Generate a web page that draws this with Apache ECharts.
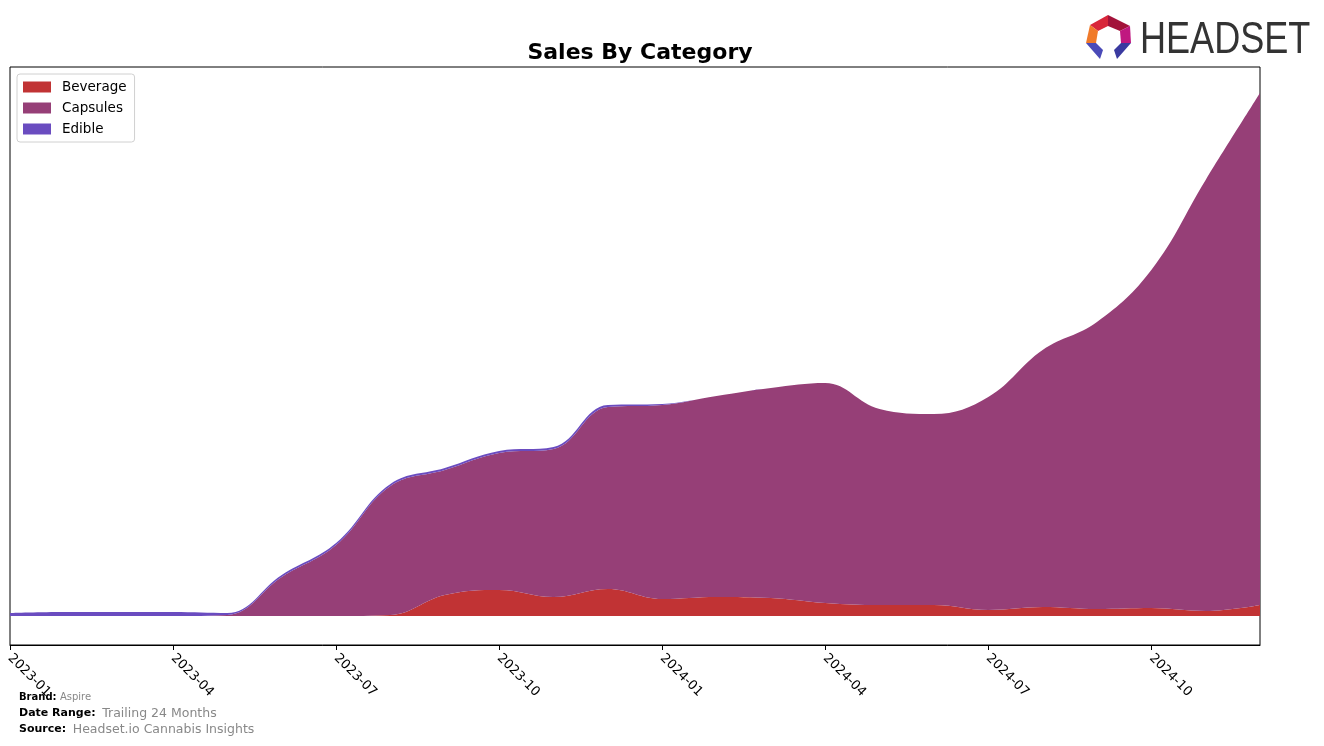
<!DOCTYPE html>
<html>
<head>
<meta charset="utf-8">
<script src="https://cdn.jsdelivr.net/npm/echarts@6/dist/echarts.min.js"></script>
<style>html,body{margin:0;padding:0;background:#fff}#c{width:1324px;height:746px}</style>
</head>
<body>
<div id="c"></div>
<script>
const months = ['2023-01','2023-02','2023-03','2023-04','2023-05','2023-06','2023-07','2023-08','2023-09','2023-10','2023-11','2023-12',
  '2024-01','2024-02','2024-03','2024-04','2024-05','2024-06','2024-07','2024-08','2024-09','2024-10','2024-11','2024-12'];
const beverage = [0,0,0,0,0,0,0,1,21,26,19,27,17,19,18,13,11,11,6,9,7,8,5,11];
const capsules = [0,0,0,0,1,39,71,129,125,137,148,182,194,201,210,220,196,191,213,257,287,338,431,512];
const edible = [3,4,4,4,2,2,2,2,2,2,2,2,1,0,0,0,0,0,0,0,0,0,0,0];
const tickLabels = ['2023-01','2023-04','2023-07','2023-10','2024-01','2024-04','2024-07','2024-10'];

const chart = echarts.init(document.getElementById('c'), null, {renderer:'canvas'});
const font = 'DejaVu Sans';
const mk = (name, data, color) => ({
  name, type:'line', stack:'total', smooth:0.4, symbol:'none', data:data.map(v=>v*1000),
  lineStyle:{width:0}, areaStyle:{color, opacity:1}, itemStyle:{color}
});
const showTick = (i, v) => tickLabels.indexOf(v) >= 0;
chart.setOption({
  animation:false,
  title:{text:'Sales By Category', left:635, top:37, textAlign:'center',
    textStyle:{fontFamily:font, fontSize:22, fontWeight:'bold', color:'#000'}},
  legend:{orient:'vertical', left:17, top:74, itemWidth:28, itemHeight:11, itemGap:7,
    padding:[6,8,6,6], borderColor:'#d0d0d0', borderWidth:1, borderRadius:3, icon:'rect',
    textStyle:{fontFamily:font, fontSize:13.5, color:'#000', lineHeight:14, padding:[0,0,0,6]},
    data:['Beverage','Capsules','Edible']},
  grid:{left:10, right:64, top:67, bottom:101, show:true, borderColor:'#000', borderWidth:1, containLabel:false},
  xAxis:{type:'category', data:months, boundaryGap:false,
    axisLine:{show:true, onZero:false, lineStyle:{color:'#000'}},
    axisTick:{show:true, interval:showTick, length:5, lineStyle:{color:'#000'}},
    axisLabel:{interval:showTick, rotate:-45, fontFamily:font, fontSize:13, color:'#000', margin:11},
    splitLine:{show:false}},
  yAxis:{type:'value', min:-29000, max:549000, show:false, splitLine:{show:false}},
  series:[
    mk('Beverage', beverage, '#c13334'),
    mk('Capsules', capsules, '#963f77'),
    mk('Edible', edible, '#6a4cc0')
  ],
  graphic:[
    {type:'text', left:19, top:691, style:{rich:{a:{fontFamily:font,fontSize:10,fontWeight:'bold',fill:'#000'},b:{fontFamily:font,fontSize:10,fill:'#888'}}, text:'{a|Brand:} {b|Aspire}'}},
    {type:'text', left:19, top:707, style:{rich:{a:{fontFamily:font,fontSize:11,fontWeight:'bold',fill:'#000'},b:{fontFamily:font,fontSize:12.5,fill:'#888'}}, text:'{a|Date Range:}  {b|Trailing 24 Months}'}},
    {type:'text', left:19, top:723, style:{rich:{a:{fontFamily:font,fontSize:11,fontWeight:'bold',fill:'#000'},b:{fontFamily:font,fontSize:12.5,fill:'#888'}}, text:'{a|Source:}  {b|Headset.io Cannabis Insights}'}},
    {type:'polygon', shape:{points:[[1108,15],[1090,25],[1098,31],[1108,26]]}, style:{fill:'#d8263a'}},
    {type:'polygon', shape:{points:[[1108,15],[1130,26],[1120,31],[1108,26]]}, style:{fill:'#a3123a'}},
    {type:'polygon', shape:{points:[[1090,25],[1086,43],[1096,43],[1098,31]]}, style:{fill:'#f07a2a'}},
    {type:'polygon', shape:{points:[[1130,26],[1131,43],[1121,43],[1120,31]]}, style:{fill:'#c01880'}},
    {type:'polygon', shape:{points:[[1086,43],[1096,43],[1103,50],[1100,59]]}, style:{fill:'#4a4ab8'}},
    {type:'polygon', shape:{points:[[1131,43],[1121,43],[1114,50],[1117,59]]}, style:{fill:'#3a3aa0'}},
    {type:'text', left:1140, top:19, scaleX:0.82, style:{text:'HEADSET', fontFamily:'Liberation Sans, DejaVu Sans', fontSize:44, fill:'#333'}}
  ]
});
</script>
</body>
</html>
